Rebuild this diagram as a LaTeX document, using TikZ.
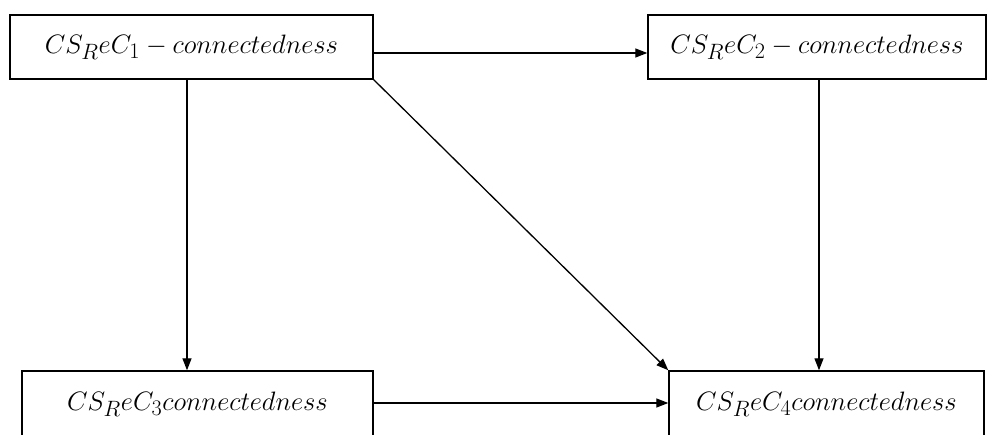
\documentclass[tikz,border=0pt]{standalone}
\usepackage{amsmath}
\usepackage{amssymb}
\usepackage{graphicx}
\usepackage{xcolor}
\usepackage{tikz}
\usetikzlibrary{positioning,arrows.meta}

\newcommand{\stagetext}[1]{\scalebox{1.07}{\Huge$#1$}}

\tikzset{
  stagebox/.style={draw, line width=1.4pt, minimum height=64pt, inner sep=0pt},
  flow/.style={line width=1.3pt, -{Triangle[length=12pt,width=9pt]}}
}

\begin{document}
\begin{tikzpicture}[x=1pt,y=1pt]
  \clip (0,0) rectangle (988,434);
  \fill[white] (0,0) rectangle (988,434);
  % boxes
  \node[stagebox, minimum width=363pt] (c1) at (191.5,387) {\stagetext{CS_ReC_1 - connectedness}};
  \node[stagebox, minimum width=338pt] (c2) at (817,387) {\stagetext{CS_ReC_2 - connectedness}};
  \node[stagebox, minimum width=351pt, minimum height=66pt] (c3) at (197.5,30) {\stagetext{CS_ReC_3connectedness}};
  \node[stagebox, minimum width=315pt, minimum height=66pt] (c4) at (826.5,30) {\stagetext{CS_ReC_4connectedness}};
  % arrows
  \draw[flow] ([yshift=-6pt]c1.east) -- ([yshift=-6pt]c2.west);
  \draw[flow] ([xshift=-4.5pt]c1.south) -- ([xshift=-4.5pt]c1.south |- c3.north);
  \draw[flow] (c1.south east) -- (c4.north west);
  \draw[flow] ([xshift=2pt]c2.south) -- ([xshift=2pt]c2.south |- c4.north);
  \draw[flow] ([yshift=1pt]c3.east) -- ([yshift=1pt]c4.west);
\end{tikzpicture}
\end{document}
